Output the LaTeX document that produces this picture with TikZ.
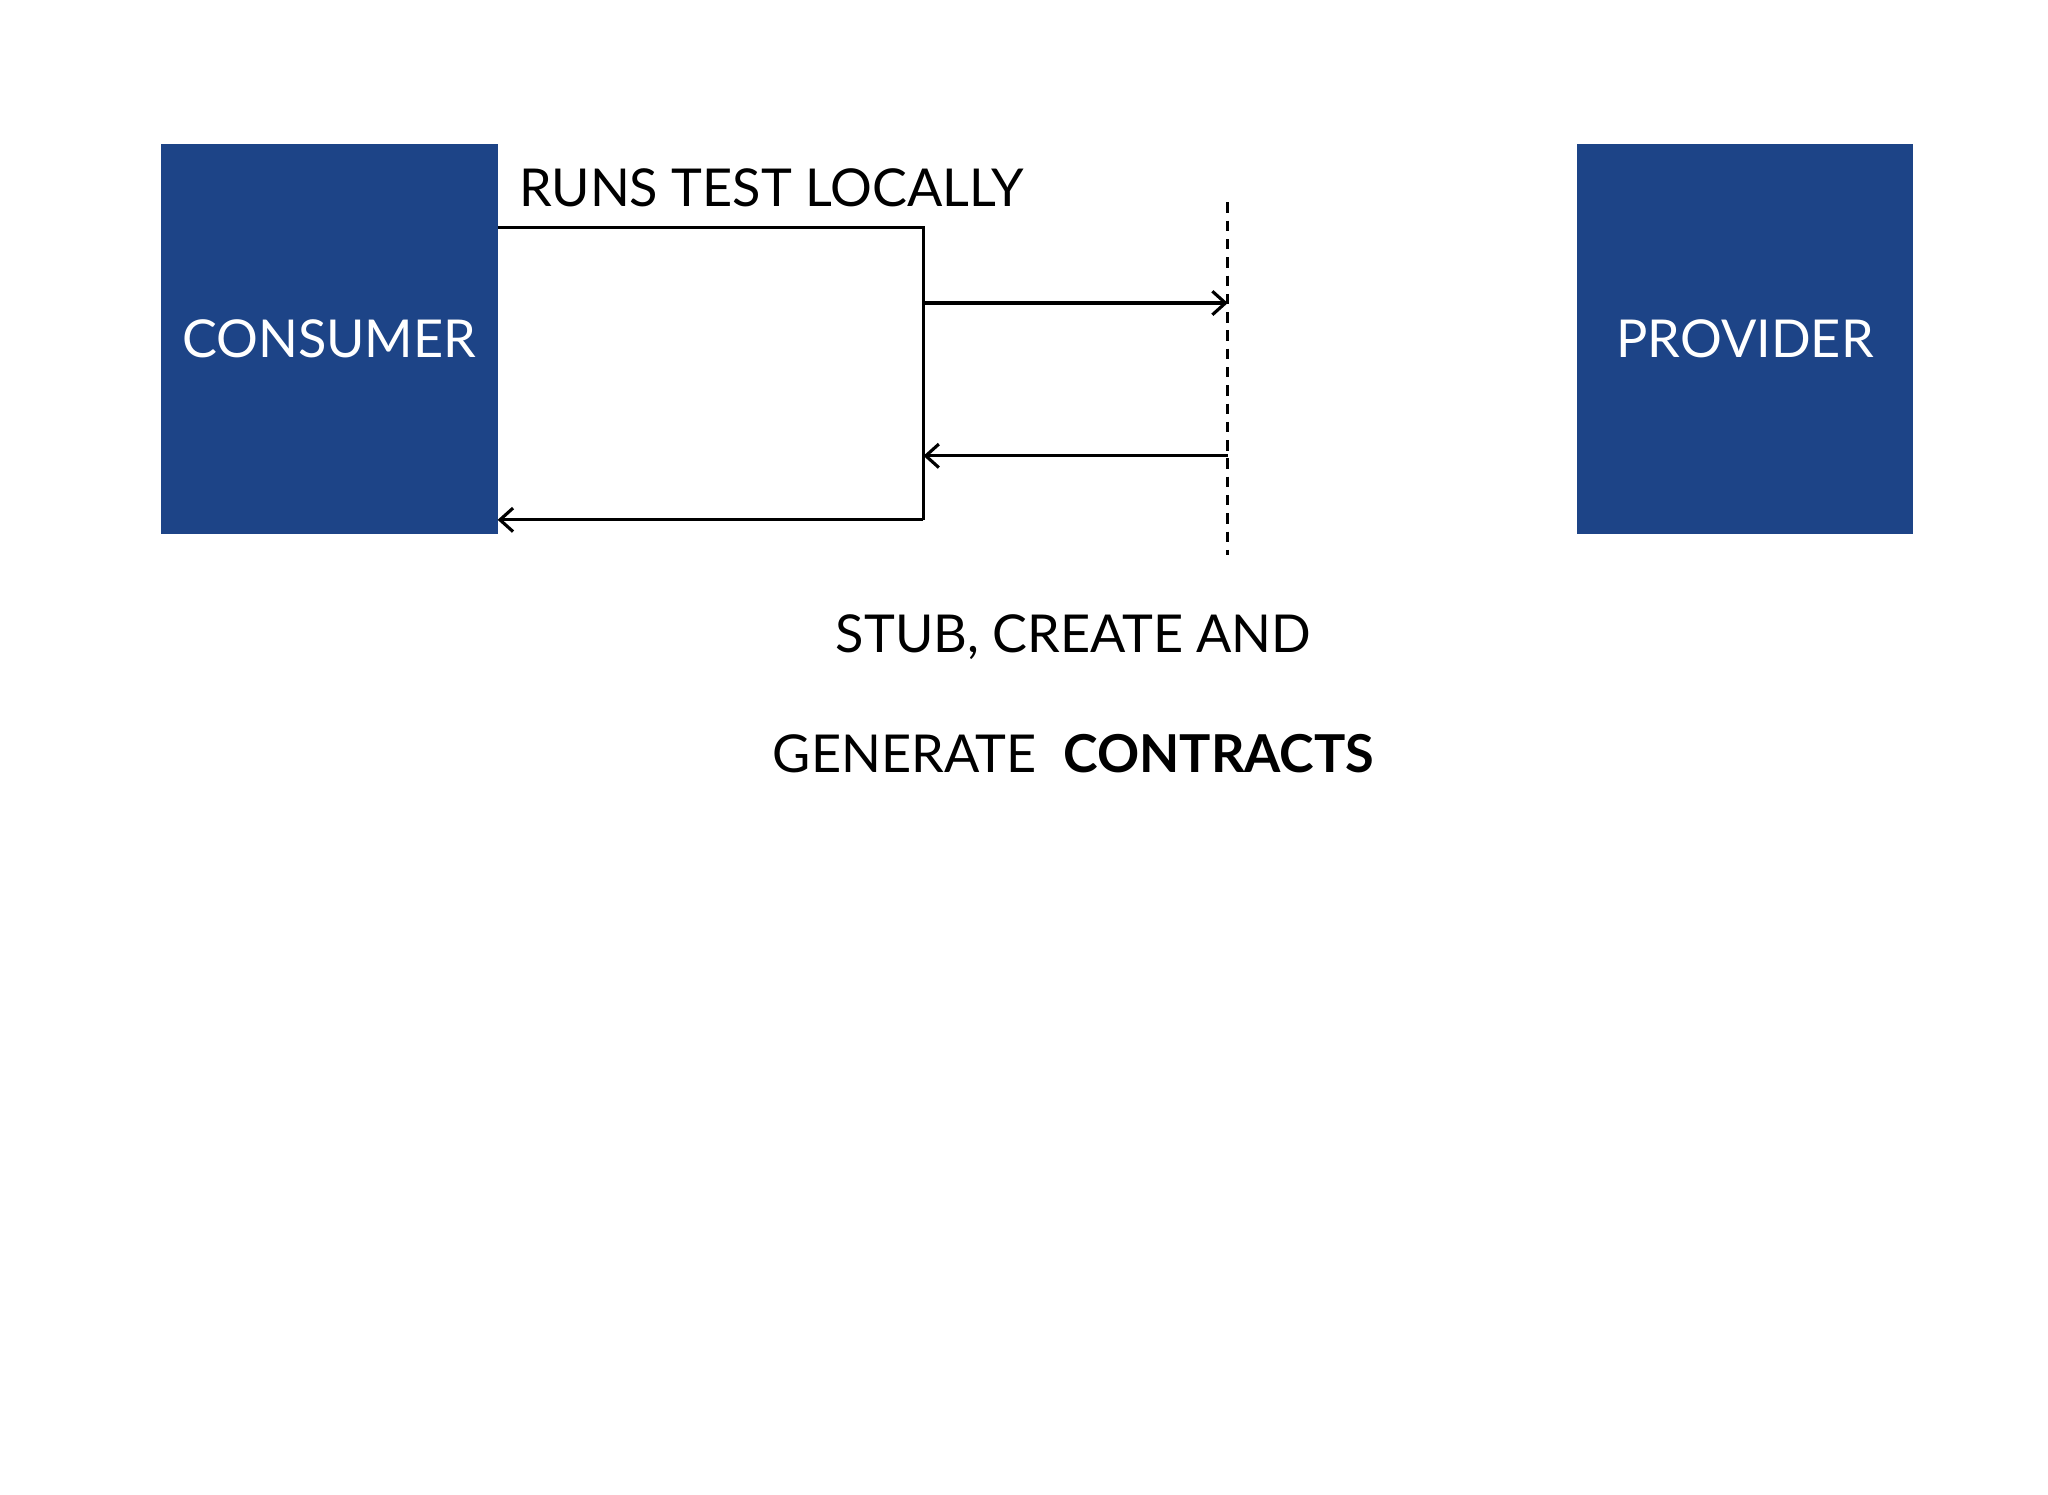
\documentclass[tikz,border=0pt]{standalone}
\usepackage{fontspec}
\setmainfont{Lato}
\definecolor{boxblue}{HTML}{1D4487}
\begin{document}
\begin{tikzpicture}[x=0.5pt,y=-0.5pt,
  blk/.style={fill=boxblue,draw=none,minimum width=129pt,minimum height=149.5pt,inner sep=0,text=white,font=\fontsize{20}{24}\selectfont},
  lbl/.style={font=\fontsize{20}{24}\selectfont,inner sep=0},
  ln/.style={line width=1.2pt},
  arr/.style={ln,-{Straight Barb[length=5pt,width=9pt]}}]
\usetikzlibrary{arrows.meta}
\useasboundingbox (0,0) rectangle (1568,1144);
\node[blk] (cons) at (252,259.5) {CONSUMER};
\node[blk] (prov) at (1336,259.5) {PROVIDER};
\node[lbl,anchor=west] (runs) at (397,144) {RUNS TEST LOCALLY};
\node[lbl] (stub) at (822,488) {STUB, CREATE AND};
\node[lbl] (gen) at (822,577) {GENERATE\ \ \textbf{CONTRACTS}};
\coordinate (a1) at (381,174);
\coordinate (a2) at (707,174);
\coordinate (a3) at (707,398);
\coordinate (a4) at (381,398);
\coordinate (b1) at (707,232);
\coordinate (b2) at (940,232);
\coordinate (c1) at (940,349);
\coordinate (c2) at (707,349);
\coordinate (d1) at (940,155);
\coordinate (d2) at (940,425);
\draw[ln] (a1) -- (a2) -- (a3);
\draw[arr] (a3) -- (a4);
\draw[arr] (b1) -- (b2);
\draw[arr] (c1) -- (c2);
\draw[ln,dash pattern=on 4pt off 3pt] (d1) -- (d2);
\end{tikzpicture}
\end{document}
